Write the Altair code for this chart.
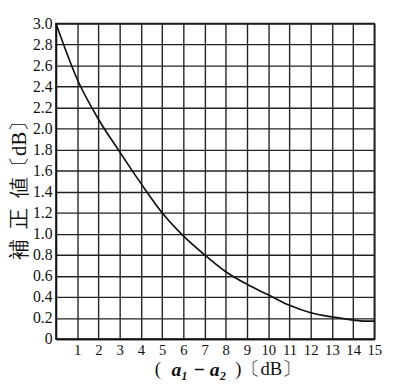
import altair as alt
import pandas as pd

x_vals = [0, 1, 2, 3, 4, 5, 6, 7, 8, 9, 10, 11, 12, 13, 14, 14.5, 15]
y_vals = [3.0, 2.47, 2.09, 1.78, 1.48, 1.2, 0.98, 0.8, 0.64, 0.52, 0.42, 0.32, 0.25, 0.21, 0.18, 0.17, 0.17]
x_ticks = list(range(1, 16))
y_ticks = [round(i * 0.2, 1) for i in range(16)]
x_title_parts = ["(", "a₁ − a₂", ")〔dB〕"]
y_title = "補\u2002正\u2002値〔dB〕"

df = pd.DataFrame({"x": x_vals, "y": y_vals})

line = alt.Chart(df).mark_line(color="#111", strokeWidth=1.7, interpolate="monotone").encode(
    x=alt.X("x:Q", scale=alt.Scale(domain=[0, 15], nice=False),
            axis=alt.Axis(values=x_ticks, title=None, grid=True, ticks=False,
                          labelPadding=4, labelFontSize=15, labelFont="Liberation Serif",
                          labelFlush=False)),
    y=alt.Y("y:Q", scale=alt.Scale(domain=[0, 3.0], nice=False),
            axis=alt.Axis(values=y_ticks, title=y_title, grid=True, ticks=False,
                          labelExpr="datum.value == 0 ? '0' : format(datum.value, '.1f')",
                          labelPadding=4, labelFontSize=16, labelFont="Liberation Serif",
                          titleFont="Liberation Serif", titleFontSize=21, titleFontWeight="normal",
                          titleX=-37, titleY=165, titleAngle=-90, titleAlign="center",
                          titleBaseline="middle", labelFlush=False)),
)

t_open = alt.Chart(pd.DataFrame({"t": [x_title_parts[0]]})).mark_text(
    font="Liberation Serif", fontSize=19, color="#111", align="center", baseline="middle"
).encode(x=alt.value(104), y=alt.value(353), text="t:N")

t_var = alt.Chart(pd.DataFrame({"t": [x_title_parts[1]]})).mark_text(
    font="Liberation Serif", fontSize=20, fontStyle="italic", fontWeight="bold",
    color="#111", align="center", baseline="middle"
).encode(x=alt.value(146), y=alt.value(354), text="t:N")

t_close = alt.Chart(pd.DataFrame({"t": [x_title_parts[2]]})).mark_text(
    font="Liberation Serif", fontSize=19, color="#111", align="left", baseline="middle"
).encode(x=alt.value(183), y=alt.value(353), text="t:N")

chart = alt.layer(line, t_open, t_var, t_close).properties(
    width=325, height=322,
    autosize=alt.AutoSizeParams(type="none"),
    padding={"left": 49, "top": 12, "right": 18, "bottom": 39},
).configure_axis(
    gridColor="#222", gridWidth=1.4, gridOpacity=1,
    domainColor="#111", domainWidth=1.6, labelColor="#111", titleColor="#111",
).configure_view(stroke="#111", strokeWidth=1.6)

chart.save("out.html", embed_options={"renderer": "svg", "actions": False})
